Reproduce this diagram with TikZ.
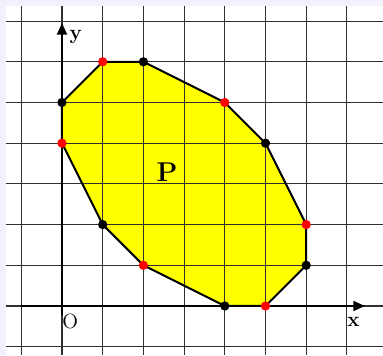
\documentclass[tikz,border=0pt]{standalone}
\usetikzlibrary{arrows.meta}
\definecolor{lav}{HTML}{F3F1FB}
\definecolor{gridc}{HTML}{303030}
\definecolor{polyfill}{HTML}{FFFF00}
\tikzset{
  gridline/.style={draw=gridc, line width=0.75pt},
  edge/.style={draw=black, line width=1.4pt, line join=round},
  axis/.style={draw=black, line width=1.3pt, -{Triangle[length=8pt,width=7pt]}},
  rdot/.style={circle, fill=red, inner sep=0pt, minimum size=6.5pt},
  bdot/.style={circle, fill=black, inner sep=0pt, minimum size=6.5pt},
  lab/.style={font=\bfseries\Large, inner sep=0pt},
}
\begin{document}
\begin{tikzpicture}[x=1cm,y=1cm]
\useasboundingbox (-1.523,-1.204) rectangle (7.887,7.518);
\fill[lav] (-1.523,-1.204) rectangle (7.887,7.518);
\fill[white] (-1.376,-1.204) rectangle (7.887,7.37);
% polygon vertices
\coordinate (v1) at (0,5);
\coordinate (v2) at (1,6);
\coordinate (v3) at (2,6);
\coordinate (v4) at (4,5);
\coordinate (v5) at (5,4);
\coordinate (v6) at (6,2);
\coordinate (v7) at (6,1);
\coordinate (v8) at (5,0);
\coordinate (v9) at (4,0);
\coordinate (v10) at (2,1);
\coordinate (v11) at (1,2);
\coordinate (v12) at (0,4);
\fill[polyfill] (v1)--(v2)--(v3)--(v4)--(v5)--(v6)--(v7)--(v8)--(v9)--(v10)--(v11)--(v12)--cycle;
% grid
\foreach \i in {-1,...,7} {
  \draw[gridline] (\i,-1.204) -- (\i,7.37);
  \draw[gridline] (-1.376,\i) -- (7.887,\i);
}
% axes
\coordinate (xs) at (-1,0);
\coordinate (xe) at (7.44,0);
\coordinate (ys) at (0,-0.22);
\coordinate (ye) at (0,6.95);
\draw[axis] (xs) -- (xe);
\draw[axis] (ys) -- (ye);
% polygon edges
\draw[edge] (v1)--(v2)--(v3)--(v4)--(v5)--(v6)--(v7)--(v8)--(v9)--(v10)--(v11)--(v12)--cycle;
% vertex dots
\foreach \v in {v1,v3,v5,v7,v9,v11} \node[bdot] (d\v) at (\v) {};
\foreach \v in {v2,v4,v6,v8,v10,v12} \node[rdot] (d\v) at (\v) {};
% labels
\node[lab] (ly) at (0.34,6.6) {y};
\node[lab] (lx) at (7.16,-0.4) {x};
\node[inner sep=0pt, font=\Large] (lo) at (0.2,-0.38) {O};
\node[font=\bfseries\fontsize{19}{21}\selectfont, inner sep=0pt] (P) at (2.58,3.3) {P};
\end{tikzpicture}
\end{document}
